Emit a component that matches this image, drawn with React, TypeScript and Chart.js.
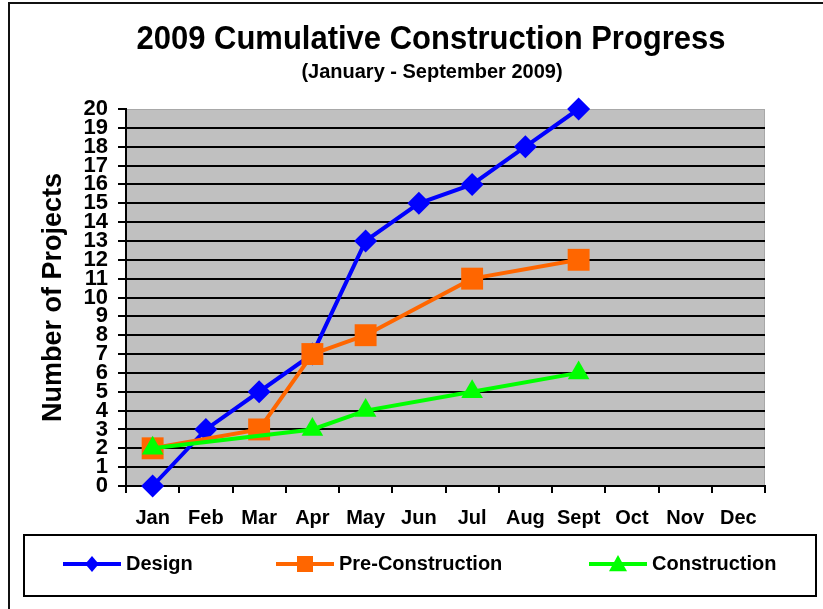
import React, { useEffect, useRef } from "react";
import { Chart, registerables } from "chart.js";

Chart.register(...registerables);

const MONTHS = ["Jan", "Feb", "Mar", "Apr", "May", "Jun", "Jul", "Aug", "Sept", "Oct", "Nov", "Dec"];
const DESIGN = [0, 3, 5, 7, 13, 15, 16, 18, 20, null, null, null];
const PRE_CONSTRUCTION = [2, null, 3, 7, 8, null, 11, null, 12, null, null, null];
const CONSTRUCTION = [2, null, null, 3, 4, null, 5, null, 6, null, null, null];
const SERIES_NAMES = ["Design", "Pre-Construction", "Construction"];
const SERIES_COLORS = ["#0000FF", "#FF6600", "#00FF00"];
const Y_MIN = 0;
const Y_MAX = 20;
const TITLE = "2009 Cumulative Construction Progress";
const SUBTITLE = "(January - September 2009)";
const Y_TITLE = "Number of Projects";

const FONT = "'Liberation Sans', Arial, sans-serif";

function drawMarker(ctx: CanvasRenderingContext2D, kind: string, x: number, y: number, s: number, color: string) {
  ctx.save();
  ctx.fillStyle = color;
  ctx.beginPath();
  if (kind === "diamond") {
    ctx.moveTo(x, y - s);
    ctx.lineTo(x + s * 0.85, y);
    ctx.lineTo(x, y + s);
    ctx.lineTo(x - s * 0.85, y);
  } else if (kind === "square") {
    ctx.rect(x - s, y - s, 2 * s, 2 * s);
  } else {
    ctx.moveTo(x, y - s);
    ctx.lineTo(x + s, y + s * 0.8);
    ctx.lineTo(x - s, y + s * 0.8);
  }
  ctx.closePath();
  ctx.fill();
  ctx.restore();
}

function stretchedText(ctx: CanvasRenderingContext2D, text: string, x: number, y: number, sy: number) {
  ctx.save();
  ctx.translate(x, y);
  ctx.scale(1, sy);
  ctx.fillText(text, 0, 0);
  ctx.restore();
}

const decorPlugin = {
  id: "decor",
  beforeDraw(chart: any) {
    const { ctx, chartArea } = chart;
    ctx.save();
    ctx.fillStyle = "#FFFFFF";
    ctx.fillRect(0, 0, chart.width, chart.height);
    // outer frame
    ctx.strokeStyle = "#111";
    ctx.lineWidth = 2;
    ctx.beginPath();
    ctx.moveTo(9, 700);
    ctx.lineTo(9, 3);
    ctx.lineTo(900, 3);
    ctx.stroke();
    // plot background
    ctx.fillStyle = "#C0C0C0";
    ctx.fillRect(chartArea.left, chartArea.top, chartArea.right - chartArea.left, chartArea.bottom - chartArea.top);
    ctx.strokeStyle = "#A8A8A8";
    ctx.lineWidth = 1;
    ctx.strokeRect(chartArea.left + 0.5, chartArea.top + 0.5, chartArea.right - chartArea.left - 1, chartArea.bottom - chartArea.top - 1);
    ctx.restore();
  },
  afterDraw(chart: any) {
    const { ctx } = chart;
    ctx.save();
    ctx.fillStyle = "#000";
    ctx.textAlign = "center";
    ctx.textBaseline = "middle";
    ctx.font = `bold 31px ${FONT}`;
    stretchedText(ctx, TITLE, 431, 40, 1.08);
    ctx.font = `bold 20px ${FONT}`;
    ctx.fillText(SUBTITLE, 432, 72);

    // legend box
    ctx.strokeStyle = "#000";
    ctx.lineWidth = 2;
    ctx.strokeRect(24, 535, 792, 61);
    const starts = [63, 276, 589];
    const kinds = ["diamond", "square", "triangle"];
    const sizes = [8, 8, 9];
    const ly = 564;
    SERIES_NAMES.forEach((name, i) => {
      const x0 = starts[i];
      ctx.strokeStyle = SERIES_COLORS[i];
      ctx.lineWidth = 4;
      ctx.beginPath();
      ctx.moveTo(x0, ly);
      ctx.lineTo(x0 + 58, ly);
      ctx.stroke();
      drawMarker(ctx, kinds[i], x0 + 29, ly, sizes[i], SERIES_COLORS[i]);
      ctx.fillStyle = "#000";
      ctx.textAlign = "left";
      ctx.font = `bold 20px ${FONT}`;
      ctx.fillText(name, x0 + 63, ly);
    });
    ctx.restore();
  },
};

export default function App() {
  const ref = useRef<HTMLCanvasElement | null>(null);
  useEffect(() => {
    if (!ref.current) return;
    const chart = new Chart(ref.current, {
      type: "line",
      data: {
        labels: MONTHS,
        datasets: [
          {
            label: SERIES_NAMES[0],
            data: DESIGN,
            borderColor: SERIES_COLORS[0],
            backgroundColor: SERIES_COLORS[0],
            pointStyle: "rectRot",
            pointRadius: 11.5,
            pointBorderWidth: 0,
            borderWidth: 4,
            order: 3,
            spanGaps: true,
            clip: false,
          },
          {
            label: SERIES_NAMES[1],
            data: PRE_CONSTRUCTION,
            borderColor: SERIES_COLORS[1],
            backgroundColor: SERIES_COLORS[1],
            pointStyle: "rect",
            pointRadius: 15.5,
            pointBorderWidth: 0,
            borderWidth: 4,
            order: 2,
            spanGaps: true,
            clip: false,
          },
          {
            label: SERIES_NAMES[2],
            data: CONSTRUCTION,
            borderColor: SERIES_COLORS[2],
            backgroundColor: SERIES_COLORS[2],
            pointStyle: "triangle",
            pointRadius: 12.5,
            pointBorderWidth: 0,
            borderWidth: 4,
            order: 1,
            spanGaps: true,
            clip: false,
          },
        ],
      },
      options: {
        responsive: false,
        animation: false,
        devicePixelRatio: 1,
        layout: { padding: { left: 37, right: 58, top: 109, bottom: 73 } },
        plugins: {
          legend: { display: false },
          title: { display: false },
          tooltip: { enabled: false },
        },
        elements: { line: { tension: 0 } },
        scales: {
          x: {
            offset: true,
            grid: {
              offset: true,
              drawOnChartArea: false,
              color: "#000",
              lineWidth: 2,
              tickLength: 7,
            },
            border: { color: "#000", width: 2 },
            ticks: {
              color: "#000",
              font: { family: FONT, size: 20, weight: "bold" },
              padding: 13,
              maxRotation: 0,
              autoSkip: false,
            },
            afterFit: (axis: any) => {
              axis.height = 50;
            },
          },
          y: {
            min: Y_MIN,
            max: Y_MAX,
            grid: {
              color: (c: any) => (c.tick && c.tick.value === Y_MAX ? "rgba(0,0,0,0)" : "#000"),
              tickColor: "#000",
              lineWidth: 2,
              tickLength: 8,
            },
            border: { color: "#000", width: 2 },
            ticks: {
              stepSize: 1,
              autoSkip: false,
              color: "#000",
              padding: 10,
              font: { family: FONT, size: 22, weight: "bold" },
            },
            title: {
              display: true,
              text: Y_TITLE,
              color: "#000",
              font: { family: FONT, size: 27, weight: "bold" },
              padding: { top: 0, bottom: 0 },
            },
            afterFit: (axis: any) => {
              axis.width = 89;
            },
          },
        },
      },
      plugins: [decorPlugin],
    });
    return () => chart.destroy();
  }, []);
  return (
    <div style={{ position: "absolute", left: 0, top: 0, width: 823, height: 609, background: "#fff" }}>
      <canvas ref={ref} width={823} height={609} style={{ display: "block" }} />
    </div>
  );
}
